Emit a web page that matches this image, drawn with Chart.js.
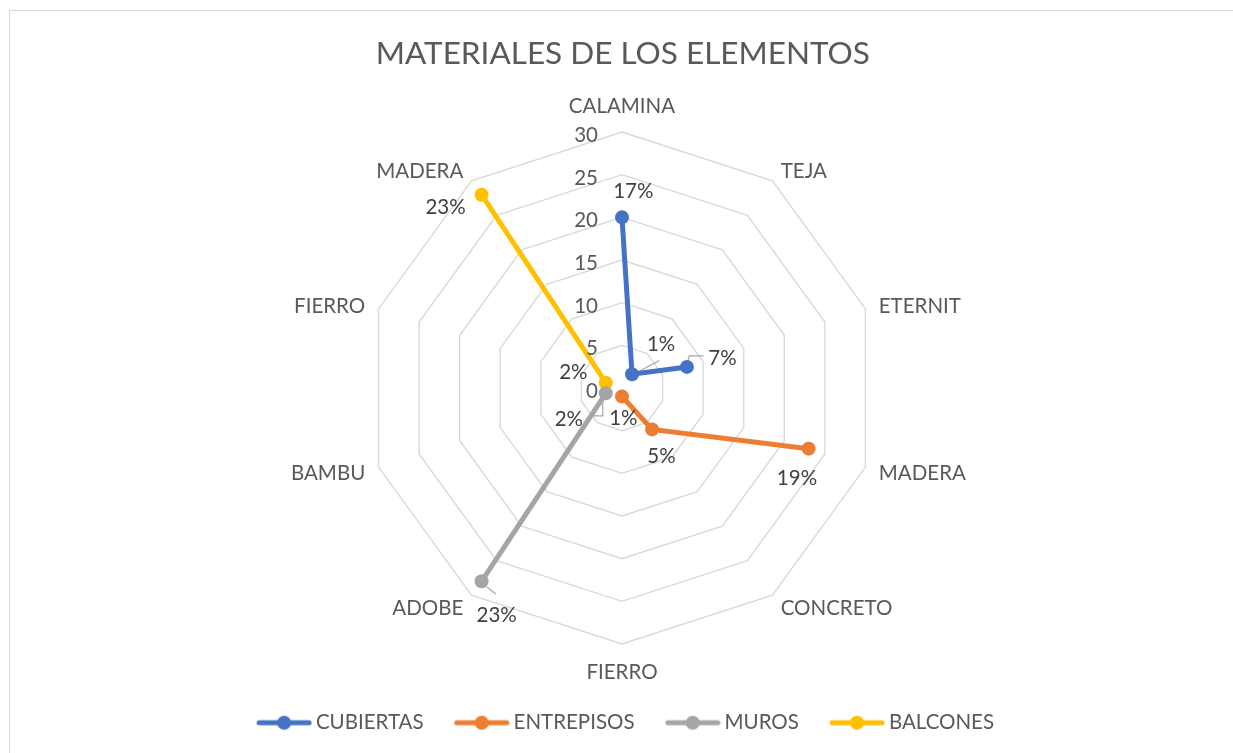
<!DOCTYPE html>
<html>
<head>
<meta charset="utf-8">
<script src="https://cdn.jsdelivr.net/npm/chart.js@4.4.1/dist/chart.umd.min.js"></script>
<style>
html,body{margin:0;padding:0;background:#ffffff;overflow:hidden;}
canvas{display:block;}
</style>
</head>
<body>
<canvas id="chart" width="1233" height="753"></canvas>
<script>
// ---------------- data ----------------
const categories = ['CALAMINA','TEJA','ETERNIT','MADERA','CONCRETO','FIERRO','ADOBE','BAMBU','FIERRO','MADERA'];
const seriesNames = ['CUBIERTAS','ENTREPISOS','MUROS','BALCONES'];
const cubiertas  = [20, 2, 8, null, null, null, null, null, null, null];
const entrepisos = [null, null, null, 23, 6, 1, null, null, null, null];
const muros      = [null, null, null, null, null, null, 28, 2, null, null];
const balcones   = [null, null, null, null, null, null, null, null, 2, 28];
const cubiertasPct  = ['17%','1%','7%',null,null,null,null,null,null,null];
const entrepisosPct = [null,null,null,'19%','5%','1%',null,null,null,null];
const murosPct      = [null,null,null,null,null,null,'23%','2%',null,null];
const balconesPct   = [null,null,null,null,null,null,null,null,'2%','23%'];
const axisMin = 0, axisMax = 30, axisStep = 5;

// ---------------- style ----------------
const FONT = 'Lato';
const BASE = 20.5;
const TITLE_SIZE = 31.5;
const TEXT_COLOR = '#595959';
const DATA_COLOR = '#404040';
const GRID_COLOR = '#d9d9d9';
const COLORS = ['#4472C4','#ED7D31','#A5A5A5','#FFC000'];
const CENTER = {x: 622, y: 388, r: 256};

// label offsets (relative to the marker) and leader lines, per series
const labelOffsets = [
  [[11.3,-26.7],[29.1,-30.3],[35.5,-9.3]],
  [null,null,null,[-11.7,29.3],[9.4,26],[1.3,21]],
  [null,null,null,null,null,null,[15.1,33.4],[-36.9,25]],
  [null,null,null,null,null,null,null,null,[-32.4,-11.6],[-36,11.7]]
];
const leaders = [
  [null,[[1.6,0],[27.3,-13.6]],[[0,-2],[2.3,-11],[16.6,-11]]],
  [],
  [null,null,null,null,null,null,[[5.3,5.7],[14.3,12.7]],[[-3,5],[-3,22.7],[-12.4,22.7]]],
  []
];

// legend geometry
const LEG = {o: 4.4, L: 56, g: 4, padding: 25.6};
const legendBoxW = LEG.o + LEG.L + LEG.g - BASE / 2;

function legendMarker(color) {
  const W = Math.round(2 * (LEG.o + LEG.L) - legendBoxW);
  const H = 18;
  const c = document.createElement('canvas');
  c.width = W; c.height = H;
  const x = c.getContext('2d');
  x.strokeStyle = color; x.lineWidth = 5; x.lineCap = 'round';
  x.beginPath(); x.moveTo(W - LEG.L + 3, H / 2); x.lineTo(W - 3, H / 2); x.stroke();
  x.fillStyle = color;
  x.beginPath(); x.arc(W - LEG.L / 2, H / 2, 7, 0, Math.PI * 2); x.fill();
  return c;
}

function capText(ctx, text, x, cy, align, color, size) {
  ctx.font = `${size || BASE}px "${FONT}"`;
  ctx.fillStyle = color;
  ctx.textAlign = align;
  ctx.textBaseline = 'alphabetic';
  const capH = ctx.measureText('H').actualBoundingBoxAscent;
  ctx.fillText(text, x, cy + capH / 2);
}

const pctLabels = [cubiertasPct, entrepisosPct, murosPct, balconesPct];

const decor = {
  id: 'decor',
  beforeDraw(chart) {
    const ctx = chart.ctx;
    ctx.save();
    ctx.fillStyle = '#ffffff';
    ctx.fillRect(0, 0, chart.width, chart.height);
    ctx.strokeStyle = GRID_COLOR; ctx.lineWidth = 1;
    ctx.strokeRect(9.5, 10.5, chart.width + 20, chart.height + 20);
    ctx.restore();
  },
  beforeDatasetsDraw(chart) {
    const ctx = chart.ctx;
    ctx.save();
    ctx.strokeStyle = '#a6a6a6'; ctx.lineWidth = 1.2;
    chart.data.datasets.forEach((ds, di) => {
      const meta = chart.getDatasetMeta(di);
      meta.data.forEach((pt, i) => {
        const lead = leaders[di][i];
        if (!lead || ds.data[i] == null) return;
        ctx.beginPath();
        lead.forEach((p, k) => {
          const X = pt.x + p[0], Y = pt.y + p[1];
          if (k) ctx.lineTo(X, Y); else ctx.moveTo(X, Y);
        });
        ctx.stroke();
      });
    });
    ctx.restore();
  },
  afterDatasetsDraw(chart) {
    const ctx = chart.ctx, s = chart.scales.r;
    ctx.save();
    // radial tick labels
    s.ticks.forEach(t => {
      const d = s.getDistanceFromCenterForValue(t.value);
      capText(ctx, t.label, s.xCenter - 24, s.yCenter - d + 2.5, 'right', TEXT_COLOR);
    });
    // category labels
    chart.data.labels.forEach((lab, i) => {
      const p = s.getPointPosition(i, s.drawingArea + 14);
      const a = i * 2 * Math.PI / chart.data.labels.length;
      const sn = Math.sin(a), cs = Math.cos(a);
      let align = 'center', cy = p.y + 1;
      if (Math.abs(sn) < 0.01) {
        cy = cs > 0 ? p.y - 12.5 : p.y + 13.5;
      } else {
        align = sn > 0 ? 'left' : 'right';
      }
      capText(ctx, lab, p.x, cy, align, TEXT_COLOR);
    });
    // data labels
    chart.data.datasets.forEach((ds, di) => {
      const meta = chart.getDatasetMeta(di);
      meta.data.forEach((pt, i) => {
        const txt = pctLabels[di][i];
        if (!txt || ds.data[i] == null) return;
        const off = labelOffsets[di][i];
        capText(ctx, txt, pt.x + off[0], pt.y + off[1], 'center', DATA_COLOR);
      });
    });
    ctx.restore();
  }
};

Chart.defaults.font.family = FONT;

const datasets = [cubiertas, entrepisos, muros, balcones].map((arr, i) => ({
  label: seriesNames[i],
  data: arr,
  borderColor: COLORS[i],
  backgroundColor: COLORS[i],
  pointBackgroundColor: COLORS[i],
  pointBorderColor: COLORS[i],
  pointBorderWidth: 0,
  pointRadius: 7,
  pointHoverRadius: 7,
  borderWidth: 5,
  fill: false,
  spanGaps: false,
  clip: false,
  tension: 0
}));

new Chart(document.getElementById('chart'), {
  type: 'radar',
  data: {labels: categories, datasets},
  options: {
    responsive: false,
    animation: false,
    devicePixelRatio: 1,
    layout: {padding: {left: 12.6, right: 0, top: 0, bottom: 10}},
    plugins: {
      title: {
        display: true,
        text: 'MATERIALES DE LOS ELEMENTOS',
        color: TEXT_COLOR,
        font: {family: FONT, size: TITLE_SIZE, weight: 'normal'},
        padding: {top: 34.5, bottom: 10}
      },
      legend: {
        position: 'bottom',
        labels: {
          usePointStyle: true,
          pointStyleWidth: legendBoxW,
          boxHeight: BASE,
          padding: LEG.padding,
          color: TEXT_COLOR,
          font: {family: FONT, size: BASE},
          generateLabels: (chart) => chart.data.datasets.map((ds, i) => ({
            text: ds.label,
            fillStyle: ds.borderColor,
            strokeStyle: ds.borderColor,
            lineWidth: 0,
            pointStyle: legendMarker(ds.borderColor),
            hidden: false,
            datasetIndex: i,
            fontColor: TEXT_COLOR
          }))
        }
      },
      tooltip: {enabled: false}
    },
    scales: {
      r: {
        min: axisMin,
        max: axisMax,
        ticks: {stepSize: axisStep, display: false},
        grid: {color: GRID_COLOR, lineWidth: 1.4},
        angleLines: {display: false},
        pointLabels: {display: false},
        afterFit: (scale) => {
          scale.xCenter = CENTER.x;
          scale.yCenter = CENTER.y;
          scale.drawingArea = CENTER.r;
        }
      }
    }
  },
  plugins: [decor]
});
</script>
</body>
</html>
